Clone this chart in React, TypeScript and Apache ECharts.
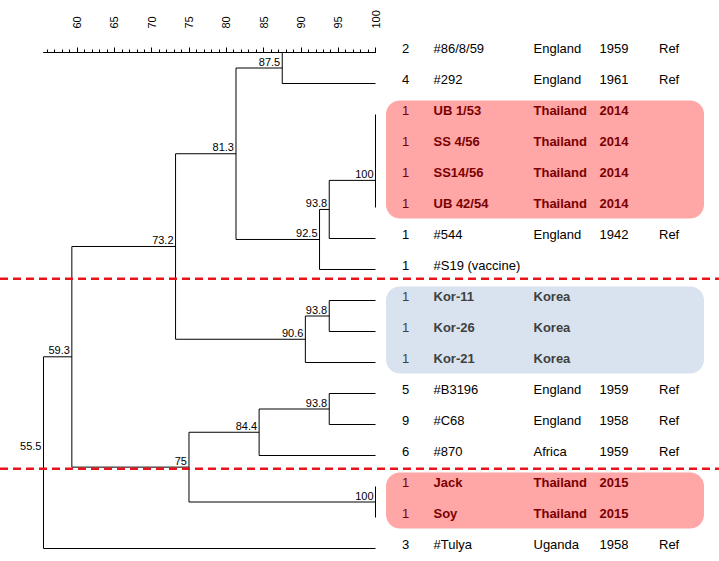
import React, { useEffect, useRef } from 'react';
import * as echarts from 'echarts';

// ---- data ----
const counts = ['2', '4', '1', '1', '1', '1', '1', '1', '1', '1', '1', '5', '9', '6', '1', '1', '3'];
const strains = ['#86/8/59', '#292', 'UB 1/53', 'SS 4/56', 'SS14/56', 'UB 42/54', '#544', '#S19 (vaccine)', 'Kor-11', 'Kor-26', 'Kor-21', '#B3196', '#C68', '#870', 'Jack', 'Soy', '#Tulya'];
const countries = ['England', 'England', 'Thailand', 'Thailand', 'Thailand', 'Thailand', 'England', '', 'Korea', 'Korea', 'Korea', 'England', 'England', 'Africa', 'Thailand', 'Thailand', 'Uganda'];
const years = ['1959', '1961', '2014', '2014', '2014', '2014', '1942', '', '', '', '', '1959', '1958', '1959', '2015', '2015', '1958'];
const refs = ['Ref', 'Ref', '', '', '', '', 'Ref', '', '', '', '', 'Ref', 'Ref', 'Ref', '', '', 'Ref'];
// merges (linkage): [childA, childB, similarity %]; new nodes numbered after the 17 leaves
const merges: [number, number, number][] = [
  [2, 3, 100], [17, 4, 100], [18, 5, 100], [0, 1, 87.5], [19, 6, 93.8], [21, 7, 92.5],
  [20, 22, 81.3], [8, 9, 93.8], [24, 10, 90.6], [23, 25, 73.2], [11, 12, 93.8], [27, 13, 84.4],
  [14, 15, 100], [28, 29, 75], [26, 30, 59.3], [31, 16, 55.5],
];
const axisTickValues = [60, 65, 70, 75, 80, 85, 90, 95, 100];
const axisMin = 55.5;
const axisMax = 100;
const groups: { from: number; to: number; kind: string }[] = [
  { from: 2, to: 5, kind: 'thai' },
  { from: 8, to: 10, kind: 'korea' },
  { from: 14, to: 15, kind: 'thai' },
];

// ---- derived tree geometry (in data units) ----
const nLeaves = strains.length;
const heights: number[] = strains.map(() => 100);
const ypos: number[] = strains.map((_, i) => i);
const parentOf: number[] = [];
merges.forEach(([a, b, h], k) => {
  heights.push(h);
  ypos.push((ypos[a] + ypos[b]) / 2);
  parentOf[a] = nLeaves + k;
  parentOf[b] = nLeaves + k;
});
const segments: number[][] = [];
const nodeLabels: number[][] = [];
merges.forEach(([a, b, h], k) => {
  const node = nLeaves + k;
  segments.push([h, ypos[a], h, ypos[b]]);
  segments.push([h, ypos[a], heights[a], ypos[a]]);
  segments.push([h, ypos[b], heights[b], ypos[b]]);
  const p = parentOf[node];
  if (p === undefined || heights[p] !== h) nodeLabels.push([h, ypos[node]]);
});
const minorTicks: number[] = [];
for (let v = Math.ceil(axisMin); v <= axisMax; v += 1) minorTicks.push(v);

const leafGroup = (i: number) => {
  const g = groups.find((gr) => i >= gr.from && i <= gr.to);
  return g ? g.kind : '';
};

const FONT = 'Arial, "Liberation Sans", sans-serif';

export default function App() {
  const ref = useRef<HTMLDivElement>(null);
  useEffect(() => {
    if (!ref.current) return;
    const chart = echarts.init(ref.current, undefined, { renderer: 'svg' });
    const gridBox = { left: 43.5, right: 343.5, top: 52.5, bottom: 12.5 };
    const option: any = {
      animation: false,
      backgroundColor: '#ffffff',
      grid: [{ ...gridBox }, { ...gridBox }],
      xAxis: [
        {
          type: 'value', gridIndex: 0, position: 'top', offset: 16, min: axisMin, max: axisMax,
          axisLine: { show: true, lineStyle: { color: '#000', width: 1 } },
          axisTick: { show: true, length: 5, customValues: axisTickValues, lineStyle: { color: '#000' } },
          axisLabel: {
            show: true, customValues: axisTickValues, rotate: 90, margin: 8,
            color: '#000', fontSize: 11, fontFamily: FONT,
          },
          splitLine: { show: false },
        },
        {
          type: 'value', gridIndex: 1, position: 'top', offset: 16, min: axisMin, max: axisMax,
          axisLine: { show: false },
          axisTick: { show: true, length: 3, customValues: minorTicks, lineStyle: { color: '#000' } },
          axisLabel: { show: false },
          splitLine: { show: false },
        },
      ],
      yAxis: [
        { type: 'value', gridIndex: 0, inverse: true, min: 0, max: nLeaves - 1, show: false },
        { type: 'value', gridIndex: 1, inverse: true, min: 0, max: nLeaves - 1, show: false },
      ],
      series: [
        // highlight boxes
        {
          type: 'custom', xAxisIndex: 0, yAxisIndex: 0, z: 1,
          data: groups.map((g) => [g.from, g.to]),
          renderItem: (params: any, api: any) => {
            const g = groups[params.dataIndex];
            const y1 = api.coord([100, g.from])[1] - 14;
            const y2 = api.coord([100, g.to])[1] + 11;
            return {
              type: 'rect',
              shape: { x: 386, y: y1, width: 318, height: y2 - y1, r: 14 },
              style: { fill: g.kind === 'thai' ? '#FFA6A6' : '#D9E3EF' },
              silent: true,
            };
          },
        },
        // table text
        {
          type: 'custom', xAxisIndex: 0, yAxisIndex: 0, z: 2,
          data: strains.map((_, i) => [100, i]),
          renderItem: (params: any, api: any) => {
            const i = params.dataIndex;
            const y = api.coord([100, i])[1] - 4.5;
            const kind = leafGroup(i);
            const color = kind === 'thai' ? '#7A0000' : kind === 'korea' ? '#404040' : '#000000';
            const weight = kind ? 'bold' : 'normal';
            const t = (x: number, text: string, w: string, align = 'left') => ({
              type: 'text', x, y,
              style: { text, fill: color, font: `${w} 13px ${FONT}`, align, verticalAlign: 'middle' },
              silent: true,
            });
            return {
              type: 'group',
              children: [
                t(405.5, counts[i], 'normal', 'center'),
                t(433.5, strains[i], weight),
                t(533.5, countries[i], weight),
                t(599.5, years[i], weight),
                t(659, refs[i], 'normal'),
              ],
            };
          },
        },
        // dendrogram lines
        {
          type: 'custom', xAxisIndex: 0, yAxisIndex: 0, z: 3,
          data: segments,
          renderItem: (params: any, api: any) => {
            const p1 = api.coord([api.value(0), api.value(1)]);
            const p2 = api.coord([api.value(2), api.value(3)]);
            return {
              type: 'line',
              shape: { x1: p1[0], y1: p1[1], x2: p2[0], y2: p2[1] },
              style: { stroke: '#000', lineWidth: 1 },
              silent: true,
            };
          },
        },
        // node labels
        {
          type: 'custom', xAxisIndex: 0, yAxisIndex: 0, z: 4,
          data: nodeLabels,
          renderItem: (params: any, api: any) => {
            const h = api.value(0);
            const p = api.coord([h, api.value(1)]);
            return {
              type: 'text', x: p[0] - 2, y: p[1] - 6.5,
              style: { text: String(h), fill: '#000', font: `11px ${FONT}`, align: 'right', verticalAlign: 'middle' },
              silent: true,
            };
          },
        },
        // group separators
        {
          type: 'custom', xAxisIndex: 0, yAxisIndex: 0, z: 5,
          data: [[100, 7.3], [100, 13.43]],
          renderItem: (params: any, api: any) => {
            const y = api.coord([100, api.value(1)])[1];
            return {
              type: 'line',
              shape: { x1: 0, y1: y, x2: api.getWidth(), y2: y },
              style: { stroke: '#E8141B', lineWidth: 2.5, lineDash: [8, 5] },
              silent: true,
            };
          },
        },
      ],
    };
    chart.setOption(option);
    return () => chart.dispose();
  }, []);
  return <div ref={ref} style={{ position: 'absolute', left: 0, top: 0, width: 719, height: 561 }} />;
}
